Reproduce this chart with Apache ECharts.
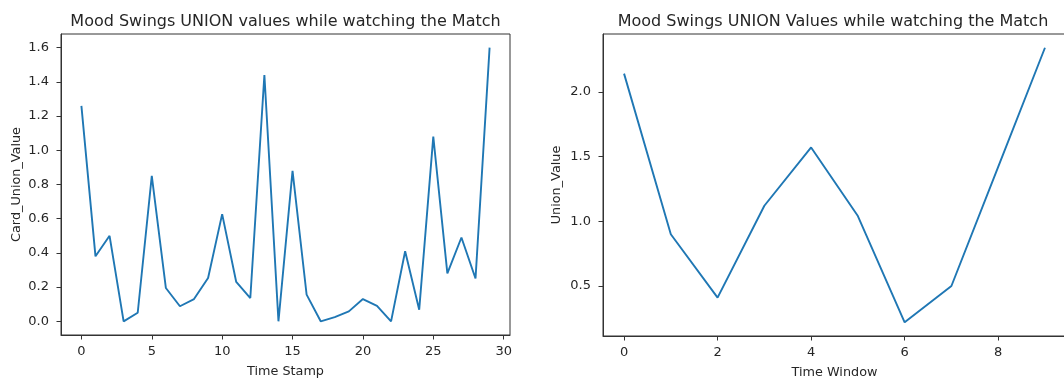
<!DOCTYPE html>
<html>
<head>
<meta charset="utf-8">
<script src="https://cdn.jsdelivr.net/npm/echarts@6/dist/echarts.min.js"></script>
<style>html,body{margin:0;padding:0;background:#fff}#c{width:1064px;height:380px}</style>
</head>
<body>
<div id="c"></div>
<script>
// Left chart data
const leftTimeStamps = [0,1,2,3,4,5,6,7,8,9,10,11,12,13,14,15,16,17,18,19,20,21,22,23,24,25,26,27,28,29];
const leftValues = [1.26,0.38,0.50,0.00,0.05,0.85,0.195,0.088,0.13,0.253,0.627,0.23,0.136,1.44,0.00,0.88,0.156,0.00,0.025,0.058,0.13,0.09,0.00,0.41,0.068,1.08,0.28,0.49,0.25,1.60];
const leftXTicks = [0,5,10,15,20,25,30];
const leftYTicks = [0.0,0.2,0.4,0.6,0.8,1.0,1.2,1.4,1.6];
// Right chart data
const rightWindows = [0,1,2,3,4,5,6,7,8,9];
const rightValues = [2.14,0.90,0.41,1.12,1.57,1.04,0.22,0.50,1.42,2.34];
const rightXTicks = [0,2,4,6,8];
const rightYTicks = [0.5,1.0,1.5,2.0];

const FONT = 'DejaVu Sans';
const TXT = '#262626';
const AX = '#333333';
const LINE = '#1f77b4';

function pad(arr, frac){
  const mn = Math.min(...arr), mx = Math.max(...arr), r = mx - mn;
  return [mn - r*frac, mx + r*frac];
}
const lx = pad(leftTimeStamps, 0.05), ly = pad(leftValues, 0.05);
const rx = pad(rightWindows, 0.05), ry = pad(rightValues, 0.05);

function xAxisCfg(gi, range, ticks, name){
  return {
    type:'value', gridIndex:gi, min:range[0], max:range[1],
    name:name, nameLocation:'middle', nameGap:30,
    nameTextStyle:{fontFamily:FONT,fontSize:12.8,color:TXT},
    axisLine:{show:true,onZero:false,lineStyle:{color:AX,width:1}},
    axisTick:{show:true,inside:false,length:4.5,customValues:ticks,lineStyle:{color:AX,width:1}},
    axisLabel:{show:true,margin:10,customValues:ticks,fontFamily:FONT,fontSize:13,color:TXT,
      formatter:v=>String(Math.round(v))},
    splitLine:{show:false}
  };
}
function yAxisCfg(gi, range, ticks, name, gap){
  return {
    type:'value', gridIndex:gi, min:range[0], max:range[1],
    name:name, nameLocation:'middle', nameGap:gap, nameRotate:90,
    nameTextStyle:{fontFamily:FONT,fontSize:12.8,color:TXT},
    axisLine:{show:true,onZero:false,lineStyle:{color:AX,width:1}},
    axisTick:{show:true,inside:false,length:4.5,customValues:ticks,lineStyle:{color:AX,width:1}},
    axisLabel:{show:true,margin:12,customValues:ticks,fontFamily:FONT,fontSize:13,color:TXT,
      formatter:v=>v.toFixed(1)},
    splitLine:{show:false}
  };
}

const chart = echarts.init(document.getElementById('c'), null, {renderer:'canvas'});
chart.setOption({
  animation:false,
  backgroundColor:'#fff',
  title:[
    {text:'Mood Swings UNION values while watching the Match', left:280.5, top:9, textAlign:'center',
     textStyle:{fontFamily:FONT,fontSize:16,fontWeight:'normal',color:TXT}},
    {text:'Mood Swings UNION Values while watching the Match', left:828, top:9, textAlign:'center',
     textStyle:{fontFamily:FONT,fontSize:16,fontWeight:'normal',color:TXT}}
  ],
  grid:[
    {left:61, top:34, width:449, height:301, show:true, borderColor:AX, borderWidth:1, backgroundColor:'transparent', outerBoundsMode:'none', containLabel:false},
    {left:603, top:34, width:463, height:302, show:true, borderColor:AX, borderWidth:1, backgroundColor:'transparent', outerBoundsMode:'none', containLabel:false}
  ],
  xAxis:[
    xAxisCfg(0, lx, leftXTicks, 'Time Stamp'),
    xAxisCfg(1, rx, rightXTicks, 'Time Window')
  ],
  yAxis:[
    yAxisCfg(0, ly, leftYTicks, 'Card_Union_Value', 38),
    yAxisCfg(1, ry, rightYTicks, 'Union_Value', 40)
  ],
  series:[
    {type:'line', xAxisIndex:0, yAxisIndex:0, data:leftTimeStamps.map((t,i)=>[t,leftValues[i]]),
     showSymbol:false, symbol:'none', lineStyle:{color:LINE,width:1.9}, itemStyle:{color:LINE}},
    {type:'line', xAxisIndex:1, yAxisIndex:1, data:rightWindows.map((t,i)=>[t,rightValues[i]]),
     showSymbol:false, symbol:'none', lineStyle:{color:LINE,width:1.9}, itemStyle:{color:LINE}}
  ]
});
</script>
</body>
</html>
